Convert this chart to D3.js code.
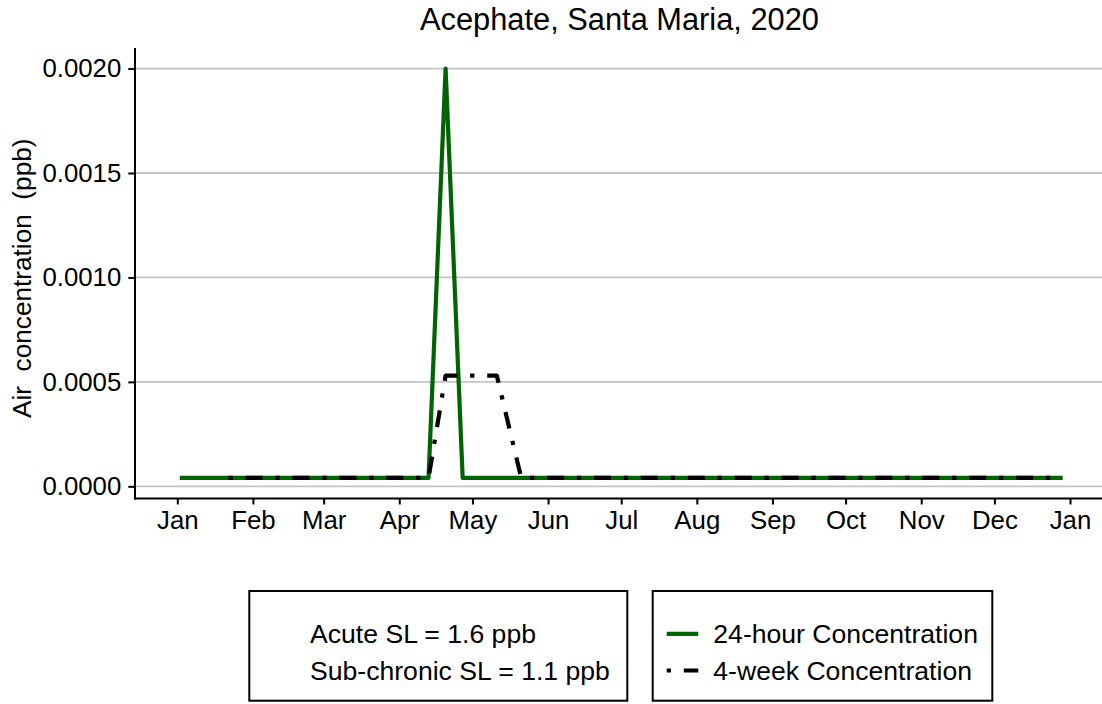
<!DOCTYPE html>
<html>
<head>
<meta charset="utf-8">
<script src="https://cdn.jsdelivr.net/npm/d3@7"></script>
<style>
  html, body { margin: 0; padding: 0; background: #fff; }
  svg { display: block; font-family: "Liberation Sans", Arial, sans-serif; }
</style>
</head>
<body>
<svg id="chart" width="1102" height="704"></svg>
<script>
// ---- data ----
const title = "Acephate, Santa Maria, 2020";
const yTitle = "Air  concentration  (ppb)";
const dates24 = ["2020-01-02", "2020-04-13", "2020-04-20", "2020-04-27", "2020-12-29"];
const conc24  = [0.00004, 0.00004, 0.0020, 0.00004, 0.00004];
const dates4w = ["2020-01-22", "2020-04-13", "2020-04-20", "2020-05-11", "2020-05-21", "2020-12-29"];
const conc4w  = [0.00004, 0.00004, 0.00053, 0.00053, 0.00004, 0.00004];
const yTicks = [0, 0.0005, 0.0010, 0.0015, 0.0020];
const xTickDates = ["2020-01-01","2020-02-01","2020-03-01","2020-04-01","2020-05-01","2020-06-01",
                    "2020-07-01","2020-08-01","2020-09-01","2020-10-01","2020-11-01","2020-12-01","2021-01-01"];
const slLabels = ["Acute SL = 1.6 ppb", "Sub-chronic SL = 1.1 ppb"];
const seriesLabels = ["24-hour Concentration", "4-week Concentration"];
const seriesColors = ["#006400", "#000000"];

// ---- setup ----
const parse = d3.utcParse("%Y-%m-%d");
const svg = d3.select("#chart");
const panel = { left: 135, right: 1106, top: 48, bottom: 498.5 };

const x = d3.scaleUtc()
  .domain([parse("2020-01-01"), parse("2021-01-01")])
  .range([177.3, 1070]);
const y = d3.scaleLinear()
  .domain([-0.0000583, 0.0020983])
  .range([panel.bottom, panel.top]);

// gridlines
svg.append("g").selectAll("line").data(yTicks).join("line")
  .attr("x1", panel.left).attr("x2", panel.right)
  .attr("y1", d => y(d)).attr("y2", d => y(d))
  .attr("stroke", "#c4c4c4").attr("stroke-width", 1.8);

// lines
const line = d3.line().x(d => x(d.date)).y(d => y(d.v));
const s24 = dates24.map((d, i) => ({ date: parse(d), v: conc24[i] }));
const s4w = dates4w.map((d, i) => ({ date: parse(d), v: conc4w[i] }));
const dash = "4.3,12.8,17,12.8";

svg.append("path").datum(s24).attr("d", line)
  .attr("fill", "none").attr("stroke", seriesColors[0]).attr("stroke-width", 4.2)
  .attr("stroke-linejoin", "round");
svg.append("path").datum(s4w).attr("d", line)
  .attr("fill", "none").attr("stroke", seriesColors[1]).attr("stroke-width", 4.2)
  .attr("stroke-linejoin", "round").attr("stroke-dasharray", dash);

// axes
const yAxis = d3.axisLeft(y).tickValues(yTicks).tickFormat(d3.format(".4f"))
  .tickSize(6.7).tickSizeOuter(0).tickPadding(7);
const gy = svg.append("g").attr("transform", `translate(${panel.left},0)`).call(yAxis);
gy.select(".domain").remove();
gy.selectAll(".tick line").attr("stroke", "#000").attr("stroke-width", 2);
gy.selectAll(".tick text").attr("font-size", 25.8).attr("fill", "#000")
  .attr("font-family", "'Liberation Sans', Arial, sans-serif");

const xAxis = d3.axisBottom(x).tickValues(xTickDates.map(parse)).tickFormat(d3.utcFormat("%b"))
  .tickSize(6).tickSizeOuter(0).tickPadding(6.2);
const gx = svg.append("g").attr("transform", `translate(0,${panel.bottom})`).call(xAxis);
gx.select(".domain").remove();
gx.selectAll(".tick line").attr("stroke", "#000").attr("stroke-width", 2);
gx.selectAll(".tick text").attr("font-size", 25.8).attr("fill", "#000")
  .attr("font-family", "'Liberation Sans', Arial, sans-serif");

// axis lines
svg.append("line").attr("x1", panel.left).attr("x2", panel.left)
  .attr("y1", panel.top).attr("y2", panel.bottom + 1)
  .attr("stroke", "#000").attr("stroke-width", 2);
svg.append("line").attr("x1", panel.left - 1).attr("x2", panel.right)
  .attr("y1", panel.bottom).attr("y2", panel.bottom)
  .attr("stroke", "#000").attr("stroke-width", 2);

// title
svg.append("text").attr("x", (panel.left + panel.right) / 2 - 1).attr("y", 29.5)
  .attr("text-anchor", "middle").attr("font-size", 30.8).attr("fill", "#000").text(title);

// y title
svg.append("text").attr("transform", `translate(31,${(panel.top + panel.bottom) / 2 + 5}) rotate(-90)`)
  .attr("text-anchor", "middle").attr("font-size", 26.2).attr("fill", "#000")
  .attr("xml:space", "preserve").style("white-space", "pre").text(yTitle);

// legend box 1 (screening levels)
const lg1 = svg.append("g");
lg1.append("rect").attr("x", 249.3).attr("y", 591).attr("width", 378).attr("height", 109.7)
  .attr("fill", "none").attr("stroke", "#000").attr("stroke-width", 2);
lg1.selectAll("text").data(slLabels).join("text")
  .attr("x", 310).attr("y", (d, i) => 643.3 + i * 36.7)
  .attr("font-size", 26.6).attr("fill", "#000").text(d => d);

// legend box 2 (series)
const lg2 = svg.append("g");
lg2.append("rect").attr("x", 652.7).attr("y", 591).attr("width", 339.6).attr("height", 109.7)
  .attr("fill", "none").attr("stroke", "#000").attr("stroke-width", 2);
const items = lg2.selectAll("g").data(seriesLabels).join("g")
  .attr("transform", (d, i) => `translate(0,${i * 36.7})`);
items.append("line").attr("x1", 666.7).attr("x2", 698.3)
  .attr("y1", 633.8).attr("y2", 633.8)
  .attr("stroke", (d, i) => seriesColors[i]).attr("stroke-width", 4.2)
  .attr("stroke-dasharray", (d, i) => i === 1 ? dash : null);
items.append("text").attr("x", 713.3).attr("y", 643.3)
  .attr("font-size", 26.6).attr("fill", "#000").text(d => d);
</script>
</body>
</html>
